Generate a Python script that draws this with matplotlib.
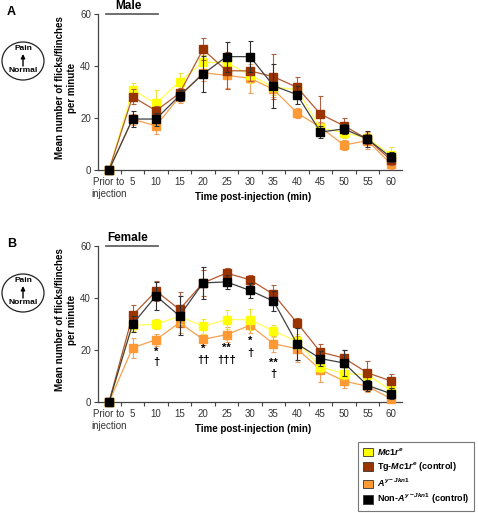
import matplotlib
matplotlib.use("Agg")
import matplotlib.pyplot as plt
from matplotlib.patches import Ellipse, Patch
import numpy as np

plt.rcParams['font.family'] = ['Liberation Sans', 'DejaVu Sans']
plt.rcParams['mathtext.fontset'] = 'custom'
plt.rcParams['mathtext.it'] = 'Liberation Sans:italic:bold'
plt.rcParams['mathtext.rm'] = 'Liberation Sans:bold'
plt.rcParams['mathtext.bf'] = 'Liberation Sans:bold'

categories = ['Prior to\ninjection', '5', '10', '15', '20', '25', '30', '35', '40', '45', '50', '55', '60']
yticks = [0, 20, 40, 60]

series_names = [r'$\mathit{Mc1r}^{e}$', r'Tg-$\mathit{Mc1r}^{e}$ (control)',
                r'$\mathit{A}^{y-Jkn1}$', r'Non-$\mathit{A}^{y-Jkn1}$ (control)']

# Male (panel A)
male_mc1r = [0, 30.8, 25.6, 34.0, 41.4, 41.3, 36.5, 31.8, 31.0, 16.0, 14.4, 12.2, 5.8]
male_mc1r_err = [0, 2.5, 5.0, 3.4, 3.0, 3.0, 3.0, 3.0, 2.5, 2.0, 2.0, 2.0, 3.0]
male_tg = [0, 28.2, 22.8, 29.5, 46.4, 38.2, 38.1, 35.9, 31.8, 21.5, 17.0, 11.9, 3.8]
male_tg_err = [0, 3.0, 2.0, 2.0, 4.2, 7.0, 4.0, 8.7, 4.0, 7.0, 3.0, 2.0, 2.0]
male_ay = [0, 19.5, 17.0, 28.2, 37.4, 36.4, 35.3, 31.0, 22.0, 16.4, 9.6, 11.3, 2.3]
male_ay_err = [0, 2.0, 3.0, 2.6, 3.0, 5.0, 5.6, 3.0, 2.0, 2.0, 2.0, 3.4, 2.0]
male_non = [0, 19.6, 19.6, 28.6, 36.9, 43.6, 43.6, 32.4, 29.0, 14.6, 15.8, 11.9, 4.9]
male_non_err = [0, 3.0, 2.5, 2.0, 6.8, 5.8, 6.0, 8.5, 3.5, 2.4, 2.0, 3.0, 2.0]

# Female (panel B)
fem_mc1r = [0, 29.5, 29.9, 33.0, 29.1, 31.7, 31.7, 27.3, 23.3, 13.5, 10.9, 10.5, 4.5]
fem_mc1r_err = [0, 2.0, 2.0, 3.0, 3.0, 3.8, 3.9, 2.2, 3.0, 2.0, 2.0, 2.0, 2.0]
fem_tg = [0, 33.3, 42.7, 35.6, 45.8, 49.6, 47.0, 41.4, 30.5, 19.2, 16.9, 11.2, 8.1]
fem_tg_err = [0, 4.0, 4.0, 6.7, 5.0, 2.0, 2.0, 3.7, 2.0, 3.0, 3.0, 4.4, 2.8]
fem_ay = [0, 20.8, 24.0, 30.5, 24.1, 25.9, 29.5, 22.4, 20.5, 12.4, 8.1, 6.0, 1.3]
fem_ay_err = [0, 4.0, 2.3, 4.0, 2.0, 2.9, 3.0, 3.0, 5.0, 4.8, 2.6, 2.0, 1.0]
fem_non = [0, 29.9, 40.8, 33.1, 45.8, 46.2, 42.9, 38.8, 22.4, 16.7, 15.0, 6.4, 3.2]
fem_non_err = [0, 3.0, 5.5, 7.5, 6.0, 2.6, 3.0, 3.8, 6.2, 3.0, 5.0, 2.0, 2.0]

# significance marks (panel B): category index, y value, text
star_idx = [2, 4, 5, 6, 7]
star_y = [19.2, 20.4, 20.8, 23.5, 15.0]
star_txt = ['*', '*', '**', '*', '**']
dag_idx = [2, 4, 5, 6, 7]
dag_y = [15.4, 16.2, 16.2, 18.8, 10.8]
dag_txt = ['\u2020', '\u2020\u2020', '\u2020\u2020\u2020', '\u2020', '\u2020']

marker_colors = ['#FFFF00', '#993300', '#FF9933', '#000000']
line_colors = ['#FFFF55', '#B55A30', '#F5A050', '#404040']
err_colors = ['#F0E040', '#B06040', '#F0A060', '#303030']

W, H = 478, 513
fig = plt.figure(figsize=(W / 100, H / 100), dpi=100)

def fx(px):
    return px / W

def fy(py):
    return 1 - py / H

x = np.arange(len(categories))

def panel(top_px, bottom_px, data, label, title, letter):
    ax = fig.add_axes([fx(98), fy(bottom_px), fx(402) - fx(98), fy(top_px) - fy(bottom_px)])
    order = [2, 0, 1, 3]
    for k in order:
        vals, errs = data[k]
        ax.errorbar(x, vals, yerr=errs, color=line_colors[k], lw=0.9,
                    ecolor=err_colors[k], elinewidth=0.8, capsize=1.8, capthick=0.8,
                    marker='s', ms=6, mfc=marker_colors[k], mec=marker_colors[k],
                    zorder=3 + order.index(k), clip_on=False)
    ax.set_xlim(-0.47, 12.47)
    ax.set_ylim(0, 60)
    for s in ['top', 'right']:
        ax.spines[s].set_visible(False)
    for s in ['left', 'bottom']:
        ax.spines[s].set_color('#444444')
        ax.spines[s].set_linewidth(0.9)
    ax.set_yticks(yticks)
    ax.set_yticklabels([str(v) for v in yticks], fontsize=7, color='#333333')
    ax.tick_params(axis='y', length=3, width=0.8, color='#444444', pad=2)
    ax.set_xticks(x)
    ax.set_xticklabels(categories, fontsize=7, color='#333333', linespacing=1.25)
    ax.tick_params(axis='x', which='major', length=0, pad=5)
    ax.set_xticks(np.arange(0.5, 12.5, 1), minor=True)
    ax.tick_params(axis='x', which='minor', length=3, width=0.8, color='#444444')
    for t in ax.get_xticklabels():
        t.set_verticalalignment('top')
    ax.patch.set_alpha(0)
    # labels
    fig.text(fx(66), fy((top_px + bottom_px) / 2 - 4), 'Mean number of flicks/flinches\nper minute',
             rotation=90, ha='center', va='center', fontsize=7, fontweight='bold',
             multialignment='center', linespacing=1.3)
    fig.text(fx(253), fy(bottom_px + 27), 'Time post-injection (min)', ha='center', va='center',
             fontsize=7, fontweight='bold')
    fig.text(fx(128), fy(top_px - 8), title, ha='center', va='center', fontsize=8.5, fontweight='bold')
    fig.add_artist(plt.Line2D([fx(106), fx(158)], [fy(top_px), fy(top_px)], color='#555555', lw=1.2))
    fig.text(fx(7), fy(top_px - 2), letter, ha='left', va='center', fontsize=9, fontweight='bold')
    # pain circle
    cy = top_px + 47
    fig.add_artist(Ellipse((fx(23), fy(cy)), fx(42), 38 / H, transform=fig.transFigure,
                           fill=False, ec='#222222', lw=0.9))
    fig.text(fx(23), fy(cy - 12), 'Pain', ha='center', va='center', fontsize=6, fontweight='bold')
    fig.text(fx(23), fy(cy + 9), 'Normal', ha='center', va='center', fontsize=6, fontweight='bold')
    fig.add_artist(plt.Annotation('', xy=(fx(23), fy(cy - 7)), xytext=(fx(23), fy(cy + 5)),
                                  xycoords='figure fraction', textcoords='figure fraction',
                                  arrowprops=dict(arrowstyle='-|>', color='black', lw=1.0,
                                                  mutation_scale=6, shrinkA=0, shrinkB=0)))
    return ax

axA = panel(14, 170, [(male_mc1r, male_mc1r_err), (male_tg, male_tg_err),
                      (male_ay, male_ay_err), (male_non, male_non_err)], None, 'Male', 'A')
axB = panel(246, 402, [(fem_mc1r, fem_mc1r_err), (fem_tg, fem_tg_err),
                       (fem_ay, fem_ay_err), (fem_non, fem_non_err)], None, 'Female', 'B')

for i, yv, t in zip(star_idx, star_y, star_txt):
    axB.text(i, yv, t, ha='center', va='center', fontsize=8, fontweight='bold')
for i, yv, t in zip(dag_idx, dag_y, dag_txt):
    axB.text(i, yv, t, ha='center', va='center', fontsize=8, fontweight='bold')

handles = [Patch(facecolor=c, edgecolor='#333333', lw=0.6) for c in marker_colors]
leg = fig.legend(handles, series_names, loc='lower right', bbox_to_anchor=(fx(474), 1 - 511 / H),
                 fontsize=6.5, frameon=True, fancybox=False, handlelength=1.1, handleheight=1.1,
                 handletextpad=0.5, borderpad=0.5, labelspacing=0.35, borderaxespad=0)
leg.get_frame().set_edgecolor('#555555')
leg.get_frame().set_linewidth(0.8)
for t in leg.get_texts():
    t.set_fontweight('bold')

fig.savefig('out.png', dpi=100)
